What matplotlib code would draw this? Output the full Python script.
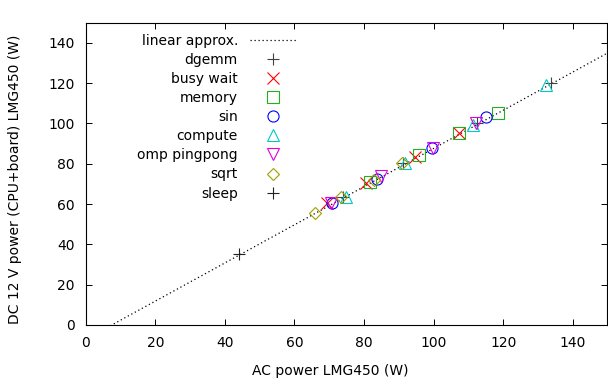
import numpy as np
import matplotlib
matplotlib.use("Agg")
import matplotlib.pyplot as plt

# measured points, (AC power, DC power) in W
dgemm_x = [74.1, 91.2, 112.5, 133.8]
dgemm_y = [63.3, 80.2, 100.0, 120.2]
busy_x = [69.3, 80.7, 94.7, 107.4]
busy_y = [60.4, 70.6, 83.5, 95.1]
memory_x = [81.7, 95.7, 107.4, 118.4]
memory_y = [71.1, 84.3, 95.4, 105.3]
sin_x = [70.7, 83.6, 99.6, 115.0]
sin_y = [60.4, 72.4, 87.9, 103.0]
compute_x = [74.7, 91.9, 111.2, 132.2]
compute_y = [63.6, 80.2, 99.2, 119.0]
pingpong_x = [70.6, 84.9, 99.8, 112.2]
pingpong_y = [60.7, 73.9, 87.6, 100.3]
sqrt_x = [65.8, 73.4, 82.9, 90.9]
sqrt_y = [55.7, 63.3, 71.9, 80.5]
sleep_x = [44.1]
sleep_y = [35.2]

# linear fit
slope = 0.947
intercept = -7.1

W, H = 608, 386
fig = plt.figure(figsize=(W / 100, H / 100), dpi=100)
ax = fig.add_axes([85.7 / W, 1 - 325 / H, (607.5 - 85.7) / W, (325 - 22.7) / H])

xs = np.array([0, 150])
ax.plot(xs, slope * xs + intercept, color="black", lw=0.9,
        linestyle=(0, (1, 2.2)), label="linear approx.")

ms = 8
mew = 0.8
series = [
    (dgemm_x, dgemm_y, "+", "#404040", "dgemm", ms),
    (busy_x, busy_y, "x", "#ff0000", "busy wait", ms),
    (memory_x, memory_y, "s", "#20b020", "memory", ms),
    (sin_x, sin_y, "o", "#0000ff", "sin", ms),
    (compute_x, compute_y, "^", "#00c8c8", "compute", ms),
    (pingpong_x, pingpong_y, "v", "#e000e0", "omp pingpong", ms),
    (sqrt_x, sqrt_y, "D", "#a0a000", "sqrt", 6.6),
    (sleep_x, sleep_y, "+", "#202020", "sleep", ms),
]
for x, y, m, c, lab, s in series:
    ax.plot(x, y, linestyle="none", marker=m, markersize=s,
            markerfacecolor="none", markeredgecolor=c, markeredgewidth=mew,
            label=lab)

ax.set_xlim(0, 150)
ax.set_ylim(0, 150)
ax.set_xticks(np.arange(0, 141, 20))
ax.set_yticks(np.arange(0, 141, 20))
ax.tick_params(direction="in", length=4.5, width=0.7, top=True, right=True,
               labelsize=10, pad=8, colors="black")
for sp in ax.spines.values():
    sp.set_linewidth(0.8)

fig.text(330 / W, 1 - 371 / H, "AC power LMG450 (W)", ha="center", va="center",
         fontsize=10)
fig.text(15 / W, 1 - 179 / H, "DC 12 V power (CPU+board) LMG450 (W)",
         rotation=90, ha="center", va="center", fontsize=10)

ax.legend(loc="upper right", bbox_to_anchor=(297 / W, 1 - 33.5 / H),
          bbox_transform=fig.transFigure, frameon=False, markerfirst=False,
          fontsize=10, handlelength=3.4, handletextpad=0.85,
          labelspacing=0.37, borderpad=0, borderaxespad=0, numpoints=1)

fig.savefig("out.png", dpi=100)
